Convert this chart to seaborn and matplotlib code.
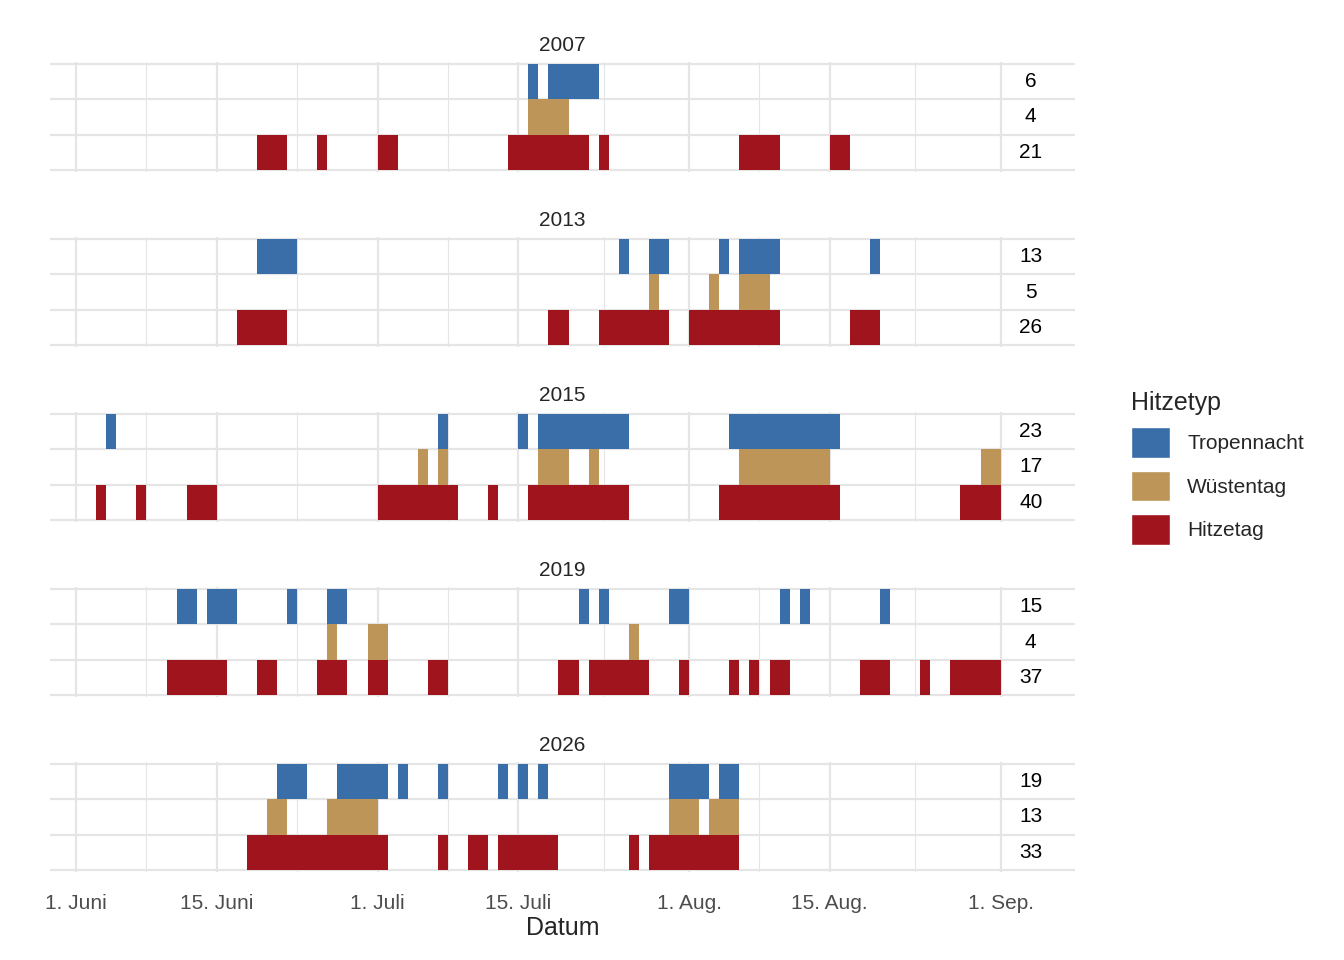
import matplotlib
matplotlib.use("Agg")
import matplotlib.pyplot as plt
import seaborn as sns
from matplotlib.patches import Patch

sns.set_theme(style="white")
plt.rcParams['font.family'] = ['Liberation Sans', 'DejaVu Sans']

# day index: 0 = 1. Juni; runs are (first day, number of days)
years = ["2007", "2013", "2015", "2019", "2026"]
types = ["Tropennacht", "Wüstentag", "Hitzetag"]
colors = {"Tropennacht": "#3A6EA8", "Wüstentag": "#BE9558", "Hitzetag": "#A0141E"}

runs = {
    "2007": {
        "Tropennacht": [(45, 1), (47, 5)],
        "Wüstentag": [(45, 4)],
        "Hitzetag": [(18, 3), (24, 1), (30, 2), (43, 8), (52, 1), (66, 4), (75, 2)],
    },
    "2013": {
        "Tropennacht": [(18, 4), (54, 1), (57, 2), (64, 1), (66, 4), (79, 1)],
        "Wüstentag": [(57, 1), (63, 1), (66, 3)],
        "Hitzetag": [(16, 5), (47, 2), (52, 7), (61, 9), (77, 3)],
    },
    "2015": {
        "Tropennacht": [(3, 1), (36, 1), (44, 1), (46, 9), (65, 11)],
        "Wüstentag": [(34, 1), (36, 1), (46, 3), (51, 1), (66, 9), (90, 2)],
        "Hitzetag": [(2, 1), (6, 1), (11, 3), (30, 8), (41, 1), (45, 10), (64, 12), (88, 4)],
    },
    "2019": {
        "Tropennacht": [(10, 2), (13, 3), (21, 1), (25, 2), (50, 1), (52, 1), (59, 2),
                        (70, 1), (72, 1), (80, 1)],
        "Wüstentag": [(25, 1), (29, 2), (55, 1)],
        "Hitzetag": [(9, 6), (18, 2), (24, 3), (29, 2), (35, 2), (48, 2), (51, 6), (60, 1),
                     (65, 1), (67, 1), (69, 2), (78, 3), (84, 1), (87, 5)],
    },
    "2026": {
        "Tropennacht": [(20, 3), (26, 5), (32, 1), (36, 1), (42, 1), (44, 1), (46, 1),
                        (59, 4), (64, 2)],
        "Wüstentag": [(19, 2), (25, 5), (59, 3), (63, 3)],
        "Hitzetag": [(17, 14), (36, 1), (39, 2), (42, 6), (55, 1), (57, 9)],
    },
}

tick_pos = [0, 14, 30, 44, 61, 75, 92]
tick_labels = ["1. Juni", "15. Juni", "1. Juli", "15. Juli", "1. Aug.", "15. Aug.", "1. Sep."]
minor_pos = [7, 22, 37, 52.5, 68, 83.5]

W, H = 1344, 960
fig = plt.figure(figsize=(13.44, 9.6), dpi=100)
grid_c = "#E5E5E5"
for i, yr in enumerate(years):
    top = 62 + i * 175
    ax = fig.add_axes([50 / W, 1 - (top + 110) / H, 1025 / W, 110 / H])
    ax.set_xlim(-2.6, 99.4)
    ax.set_ylim(-0.55, 2.55)
    for x in tick_pos:
        ax.axvline(x, color=grid_c, lw=1.6, zorder=0)
    for x in minor_pos:
        ax.axvline(x, color=grid_c, lw=0.8, zorder=0)
    for y in [-0.5, 0.5, 1.5, 2.5]:
        ax.axhline(y, color=grid_c, lw=1.6, zorder=0)
    for row, t in enumerate(types):
        yc = 2 - row
        starts = [s for s, n in runs[yr][t]]
        lens = [n for s, n in runs[yr][t]]
        ax.barh([yc] * len(starts), lens, left=starts, height=1.0,
                color=colors[t], linewidth=0, zorder=2)
        ax.text(95, yc, str(sum(lens)), ha="center", va="center", fontsize=15, color="black")
    ax.set_title(yr, fontsize=15, pad=8)
    for s in ax.spines.values():
        s.set_visible(False)
    ax.set_yticks([])
    ax.set_xticks(tick_pos)
    ax.tick_params(axis="x", length=4, color="#333333", direction="out", pad=12)
    if i == len(years) - 1:
        ax.set_xticklabels(tick_labels, fontsize=15, color="#4D4D4D")
        ax.set_xlabel("Datum", fontsize=18, labelpad=2)
    else:
        ax.set_xticklabels([])

handles = [Patch(facecolor=colors[t], label=t) for t in types]
leg = fig.legend(handles=handles, title="Hitzetyp", loc="upper left",
                 bbox_to_anchor=(1112 / W, 1 - 372 / H), frameon=False, fontsize=15,
                 title_fontsize=18, handlelength=1.9, handleheight=1.9, labelspacing=0.6)
leg._legend_box.align = "left"
fig.savefig("out.png", dpi=100)
